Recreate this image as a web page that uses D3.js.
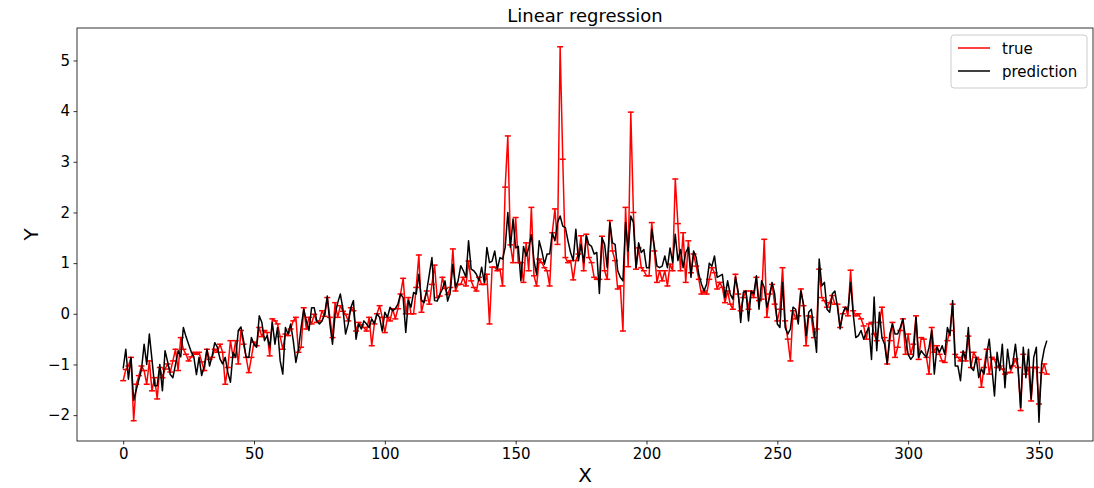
<!DOCTYPE html>
<html>
<head>
<meta charset="utf-8">
<script src="https://cdn.jsdelivr.net/npm/d3@7"></script>
<style>
  html, body { margin: 0; padding: 0; background: #fff; }
  svg { display: block; font-family: "DejaVu Sans", sans-serif; }
</style>
</head>
<body>
<svg id="chart" width="1094" height="488"></svg>
<script>
// Observed target values, one per day index
const trueValues = [
  -1.32, -1.1, -1.03, -0.86, -2.11, -1.39, -1.22, -1.03, -1.12, -1.39,
  -0.93, -1.52, -1.26, -1.68, -1.06, -1.26, -1.09, -0.99, -1.15, -0.93,
  -0.7, -1.12, -0.47, -0.7, -0.8, -0.93, -0.85, -0.76,
  -0.8, -0.76, -0.95, -1.12, -0.7, -0.9, -0.86, -0.7, -0.76, -0.6,
  -0.76, -1.39, -1.06, -0.53, -0.86, -0.53, -0.99, -0.33, -0.6, -0.86,
  -1.16, -0.86, -0.56, -0.63, -0.27, -0.45, -0.33, -0.37, -0.83, -0.1, -0.14,
  -0.2, -0.45, -0.7, -0.4, -0.43, -0.3, -0.14, -0.07, -0.76, -0.66,
  0.12, -0.3, -0.07, -0.2, -0.01, -0.17, -0.14, 0.06, -0.05, 0.32,
  -0.07, -0.47, 0.22, -0.07, 0.16, 0.05, -0.01, -0.14, 0.12, 0.06,
  -0.34, -0.17, -0.22, -0.27, -0.34, -0.07, -0.63, -0.2, 0.0, 0.16,
  -0.07, -0.37, -0.07, -0.14, 0.1, -0.1, 0.1, 0.39, 0.7, 0.0,
  0.32, 0.0, 0.0, 0.52, 1.16, 0.03, 0.26, 0.45, 0.19, 0.58, 0.96,
  0.32, 0.35, 0.72, 0.5, 0.38, 0.52, 1.28, 0.45, 0.58, 0.58,
  0.72, 0.55, 1.04, 0.65, 0.52, 0.45, 0.72, 0.58, 0.58, 0.78,
  -0.2, 0.92, 0.92, 0.85, 0.88, 0.55, 2.5, 3.51, 1.36, 1.01,
  1.9, 1.01, 1.01, 0.62, 1.4, 0.85, 2.1, 0.75, 0.55, 1.08,
  1.01, 0.91, 0.85, 0.55, 1.6, 2.07, 1.37, 5.27, 3.05, 1.11,
  1.01, 1.05, 0.67, 1.05, 1.18, 1.54, 0.85, 1.57, 1.11, 1.01, 0.72,
  0.68, 0.68, 1.53, 0.85, 0.68, 1.84, 1.24, 1.05, 0.49, 0.55,
  -0.34, 2.1, 0.93, 3.98, 2.0, 0.88, 1.3, 0.91, 0.85, 0.75,
  0.75, 1.8, 1.24, 0.62, 0.85, 0.65, 0.85, 0.55, 0.98, 0.85,
  2.66, 1.78, 0.85, 1.6, 0.62, 1.44, 0.81, 1.18, 0.94, 0.68,
  0.39, 0.45, 0.39, 0.68, 0.91, 0.81, 0.49, 0.62, 0.52, 0.22,
  0.45, 0.19, 0.09, 0.78, 0.39, 0.06, 0.32, 0.45, 0.09, 0.45, 0.32,
  0.72, 0.26, 0.29, 1.47, -0.07, 0.39, 0.58, 0.19, -0.14, 0.09,
  0.91, -0.14, -0.5, -0.93, 0.06, -0.1, -0.04, 0.49, 0.16, -0.63,
  -0.04, -0.07, -0.47, -0.3, 0.88, 0.32, 0.26, 0.13, 0.22, 0.36, 0.19,
  0.19, -0.27, 0.0, 0.13, -0.04, 0.86, 0.06, -0.04, 0.0, -0.1,
  -0.24, -0.5, -0.2, -0.17, -0.4, -0.53, -0.17, 0.13, -0.47, -0.99,
  -0.53, -0.17, -0.86, -0.66, -0.33, -0.1, -0.8, -0.4, -0.8, -0.6,
  -0.04, -0.9, -0.47, -0.5, -0.86, -1.19, -0.27, -0.76, -0.63, -0.8,
  -0.93, -0.96, -0.53, -0.33, 0.19, -0.8, -0.86, -0.93, -0.76, -0.93,
  -0.44, -1.06, -0.76, -0.86, -0.9, -1.45, -1.06, -0.7, -1.19, -0.86, -0.9,
  -1.06, -1.03, -1.09, -1.19, -1.16, -1.16, -1.03, -0.89, -1.06, -1.91,
  -0.8, -1.19, -1.06, -1.72, -1.06, -1.06, -1.78, -1.16, -0.99, -1.19
];

// Model output for the same indices
const predValues = [
  -1.08, -0.7, -1.29, -0.86, -1.71, -1.5, -1.3, -1.1, -0.6, -1.0,
  -0.4, -0.9, -1.42, -1.42, -1.0, -1.52, -0.73, -0.95, -1.2, -1.26,
  -1.0, -0.73, -0.85, -0.27, -0.45, -0.6, -0.75, -0.85,
  -1.2, -0.86, -1.22, -1.03, -0.7, -1.03, -0.83, -0.57, -0.66, -0.89,
  -0.99, -0.86, -1.16, -1.35, -0.76, -0.86, -0.33, -0.26, -0.53, -0.86,
  -0.86, -0.47, -0.6, -0.66, -0.04, -0.17, -0.53, -0.43, -0.66, -0.17, -0.6,
  -0.27, -0.93, -1.19, -0.27, -0.4, -0.2, -0.53, -0.96, -0.7, -0.27,
  0.09, -0.14, -0.33, 0.12, 0.12, -0.14, -0.2, -0.14, -0.01, 0.35,
  -0.2, -0.6, -0.01, 0.22, 0.39, 0.09, -0.4, -0.2, 0.12, 0.26,
  -0.5, -0.2, -0.3, -0.14, -0.2, -0.27, -0.1, -0.2, 0.0, -0.07,
  -0.34, 0.03, -0.07, 0.13, 0.06, 0.1, 0.19, 0.39, 0.32, -0.37,
  0.26, 0.13, 0.42, 0.39, 0.78, 0.26, 0.22, 0.45, 0.78, 1.11, 0.26,
  0.25, 0.38, 0.49, 0.65, 0.25, 0.42, 0.98, 0.52, 0.65, 0.95,
  0.85, 0.72, 1.44, 0.88, 0.85, 0.78, 0.65, 0.92, 0.62, 1.31,
  1.01, 1.04, 1.24, 0.88, 1.11, 1.08, 1.31, 2.0, 1.31, 1.87,
  1.3, 1.33, 0.65, 1.33, 1.14, 1.3, 1.56, 1.05, 0.78, 1.44,
  1.24, 0.98, 1.18, 1.18, 1.6, 1.44, 1.8, 1.93, 1.73, 1.7,
  1.44, 1.21, 1.05, 1.67, 1.05, 1.37, 1.01, 1.54, 1.37, 1.33, 1.18,
  1.21, 0.4, 1.5, 1.37, 0.91, 1.8, 1.4, 1.37, 0.85, 0.72,
  0.65, 1.8, 1.24, 1.93, 1.8, 0.91, 1.4, 1.21, 1.27, 0.91,
  0.91, 1.67, 1.33, 0.94, 0.91, 0.94, 1.14, 0.91, 1.3, 1.01,
  1.57, 1.05, 1.27, 0.91, 1.21, 1.31, 0.72, 1.24, 1.11, 0.78,
  0.59, 0.45, 0.59, 1.0, 0.94, 1.14, 0.72, 0.75, 0.78, 0.32,
  0.65, 0.39, 0.29, 0.72, 0.45, -0.17, 0.42, 0.45, -0.14, 0.45, 0.39,
  0.75, 0.09, 0.65, 0.52, 0.13, 0.32, 0.62, 0.39, -0.2, -0.27,
  0.62, -0.27, -0.4, -0.3, 0.13, 0.09, -0.2, 0.45, 0.19, -0.43,
  0.03, 0.09, -0.3, -0.76, 1.08, 0.55, 0.62, 0.09, 0.03, 0.39, 0.45,
  0.13, -0.3, 0.0, 0.13, 0.06, 0.62, 0.0, -0.47, -0.43, -0.33,
  -0.5, -0.37, -0.27, -0.9, 0.33, -0.73, 0.03, -0.47, -0.6, -0.99,
  -0.4, -0.2, -0.4, -0.4, -0.27, -0.1, -0.47, -0.8, -0.9, -0.83,
  -0.07, -0.86, -0.73, -0.8, -0.86, -0.66, -0.33, -1.19, -0.66, -0.76,
  -0.63, -0.8, -0.27, -0.43, 0.26, -1.03, -1.03, -1.32, -0.73, -0.9,
  -0.27, -1.06, -1.12, -0.86, -1.26, -1.09, -1.19, -0.8, -0.5, -1.06, -1.62,
  -0.76, -1.12, -0.6, -1.46, -0.7, -1.09, -0.99, -0.6, -1.06, -1.85,
  -0.66, -1.26, -0.7, -1.68, -0.86, -0.66, -2.14, -0.99, -0.7, -0.53
];

const xTicks = [0, 50, 100, 150, 200, 250, 300, 350];
const yTicks = [-2, -1, 0, 1, 2, 3, 4, 5];
const seriesNames = ["true", "prediction"];
const seriesColors = ["#ff0000", "#000000"];

const svg = d3.select("#chart");
const plot = { left: 77, right: 1093, top: 28, bottom: 441 };

const n = trueValues.length;
const xSpan = n - 1;
const x = d3.scaleLinear()
  .domain([-0.05 * xSpan, xSpan * 1.05])
  .range([plot.left, plot.right]);

const allY = trueValues.concat(predValues);
const yLo = d3.min(allY), yHi = d3.max(allY);
const yPad = (yHi - yLo) * 0.05;
const y = d3.scaleLinear()
  .domain([yLo - yPad, yHi + yPad])
  .range([plot.bottom, plot.top]);

const minus = s => String(s).replace("-", "\u2212");

// Axes
const xAxis = d3.axisBottom(x).tickValues(xTicks).tickSize(3.5).tickPadding(3.5).tickSizeOuter(0);
const yAxis = d3.axisLeft(y).tickValues(yTicks).tickSize(3.5).tickPadding(3.5).tickSizeOuter(0)
  .tickFormat(d => minus(d));

const gx = svg.append("g").attr("transform", `translate(0,${plot.bottom})`).call(xAxis);
const gy = svg.append("g").attr("transform", `translate(${plot.left},0)`).call(yAxis);
[gx, gy].forEach(g => {
  g.select(".domain").remove();
  g.selectAll(".tick line").attr("stroke", "#000").attr("stroke-width", 0.8);
  g.selectAll(".tick text")
    .attr("fill", "#000")
    .style("font-family", "'DejaVu Sans', sans-serif")
    .style("font-size", "15px");
});

// Clip region for the data
svg.append("clipPath").attr("id", "clip")
  .append("rect")
  .attr("x", plot.left).attr("y", plot.top)
  .attr("width", plot.right - plot.left).attr("height", plot.bottom - plot.top);

const data = d3.range(n).map(i => ({ i, t: trueValues[i], p: predValues[i] }));
const layer = svg.append("g").attr("clip-path", "url(#clip)");

// True series with cap markers at each observation
layer.append("path")
  .datum(data)
  .attr("fill", "none")
  .attr("stroke", seriesColors[0])
  .attr("stroke-width", 1.5)
  .attr("stroke-linejoin", "round")
  .attr("d", d3.line().x(d => x(d.i)).y(d => y(d.t)));

layer.append("g").selectAll("line")
  .data(data)
  .join("line")
  .attr("x1", d => x(d.i) - 3)
  .attr("x2", d => x(d.i) + 3)
  .attr("y1", d => y(d.t))
  .attr("y2", d => y(d.t))
  .attr("stroke", seriesColors[0])
  .attr("stroke-width", 1.5);

// Prediction series
layer.append("path")
  .datum(data)
  .attr("fill", "none")
  .attr("stroke", seriesColors[1])
  .attr("stroke-width", 1.5)
  .attr("stroke-linejoin", "round")
  .attr("d", d3.line().x(d => x(d.i)).y(d => y(d.p)));

// Frame
svg.append("rect")
  .attr("x", plot.left).attr("y", plot.top)
  .attr("width", plot.right - plot.left).attr("height", plot.bottom - plot.top)
  .attr("fill", "none").attr("stroke", "#000").attr("stroke-width", 0.8);

// Title and axis labels
svg.append("text")
  .attr("x", (plot.left + plot.right) / 2).attr("y", 22)
  .attr("text-anchor", "middle")
  .style("font-size", "18px")
  .text("Linear regression");

svg.append("text")
  .attr("x", (plot.left + plot.right) / 2).attr("y", 482)
  .attr("text-anchor", "middle")
  .style("font-size", "20px")
  .text("X");

svg.append("text")
  .attr("transform", `translate(38,${(plot.top + plot.bottom) / 2}) rotate(-90)`)
  .attr("text-anchor", "middle")
  .style("font-size", "20px")
  .text("Y");

// Legend
const legend = svg.append("g").attr("transform", "translate(951,35)");
legend.append("rect")
  .attr("width", 136).attr("height", 53).attr("rx", 3)
  .attr("fill", "#fff").attr("fill-opacity", 0.8)
  .attr("stroke", "#cccccc").attr("stroke-width", 1);
seriesNames.forEach((name, k) => {
  const cy = 13 + k * 23;
  legend.append("line")
    .attr("x1", 7).attr("x2", 39).attr("y1", cy).attr("y2", cy)
    .attr("stroke", seriesColors[k]).attr("stroke-width", 1.5);
  legend.append("text")
    .attr("x", 51).attr("y", cy + 5.5)
    .style("font-size", "15px")
    .text(name);
});
</script>
</body>
</html>
